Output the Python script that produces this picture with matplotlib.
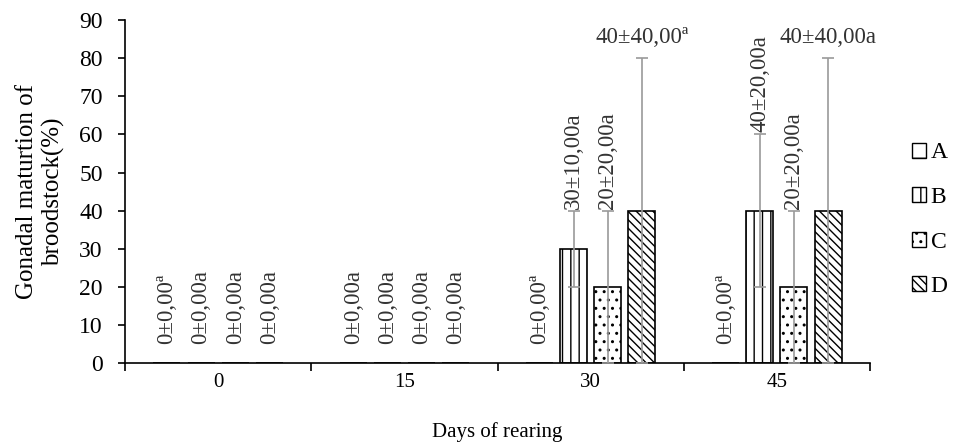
import matplotlib
matplotlib.use("Agg")
import matplotlib.pyplot as plt
import matplotlib.patches as mpatches
import numpy as np

plt.rcParams['font.family'] = ['Liberation Serif', 'DejaVu Serif']
plt.rcParams['hatch.linewidth'] = 1.0

days = ['0', '15', '30', '45']
treatments = ['A', 'B', 'C', 'D']
hatches = ['-', '||', '..', '\\\\\\\\']

mean_A = [0, 0, 0, 0]
mean_B = [0, 0, 30, 40]
mean_C = [0, 0, 20, 20]
mean_D = [0, 0, 40, 40]

err_A = [0, 0, 0, 0]
err_B = [0, 0, 10, 20]
err_C = [0, 0, 20, 20]
err_D = [0, 0, 40, 40]

lab_A = ['0±0,00ª', '0±0,00a', '0±0,00ª', '0±0,00ª']
lab_B = ['0±0,00a', '0±0,00a', '30±10,00a', '40±20,00a']
lab_C = ['0±0,00a', '0±0,00a', '20±20,00a', '20±20,00a']
lab_D = ['0±0,00a', '0±0,00a', '40±40,00ª', '40±40,00a']

means = [mean_A, mean_B, mean_C, mean_D]
errs = [err_A, err_B, err_C, err_D]
labels = [lab_A, lab_B, lab_C, lab_D]

fig = plt.figure(figsize=(9.54, 4.46), dpi=100)
ax = fig.add_axes([0.131, 0.186, 0.781, 0.769])

x = np.arange(len(days))
step = 0.183
width = 0.145
lab_size = 16.5

for i, t in enumerate(treatments):
    xs = x + (i - 1.5) * step
    m = np.array(means[i])
    e = np.array(errs[i])
    ax.bar(xs, m, width, color='white', edgecolor='black', linewidth=1.2,
           hatch=hatches[i], zorder=2)
    mask = e > 0
    if mask.any():
        ax.errorbar(xs[mask], m[mask], yerr=e[mask], fmt='none', ecolor='#9a9a9a',
                    elinewidth=1.2, capsize=4, capthick=1.2, zorder=3)
    for j in range(len(days)):
        top = m[j] + e[j]
        if top >= 80:
            ax.text(xs[j], top + 2.8, labels[i][j], ha='center', va='bottom',
                    fontsize=lab_size, color='#333333')
        elif top > 0:
            ax.text(xs[j], top + 0.5, labels[i][j], ha='center', va='bottom',
                    rotation=90, fontsize=lab_size, color='#333333')
        else:
            ax.text(xs[j], 5, labels[i][j], ha='center', va='bottom',
                    rotation=90, fontsize=lab_size, color='#333333')

ax.set_xlim(-0.5, 3.5)
ax.set_ylim(0, 90)
ax.set_yticks(np.arange(0, 91, 10))
ax.set_xticks(x)
ax.set_xticklabels(days)
ax.set_xticks(np.arange(-0.5, 3.6, 1), minor=True)
ax.tick_params(axis='x', which='major', length=0, pad=7, labelsize=15)
ax.tick_params(axis='x', which='minor', length=6, direction='out', width=1.2)
ax.tick_params(axis='y', length=5, direction='out', width=1.2, labelsize=17, pad=11)
ax.spines['top'].set_visible(False)
ax.spines['right'].set_visible(False)
ax.spines['left'].set_linewidth(1.2)
ax.spines['bottom'].set_linewidth(1.2)

ax.set_xlabel('Days of rearing', fontsize=15, labelpad=22)
ax.set_ylabel('Gonadal maturtion of\nbroodstock(%)', fontsize=18, labelpad=10,
              linespacing=1.25)

handles = [mpatches.Patch(facecolor='white', edgecolor='black', hatch=hatches[i],
                          label=t) for i, t in enumerate(treatments)]
fig.legend(handles=handles, loc='center left', bbox_to_anchor=(0.946, 0.507),
           frameon=False, fontsize=17, handlelength=0.6, handleheight=0.6,
           handletextpad=0.2, labelspacing=1.0, borderaxespad=0)

fig.savefig('out.png', dpi=100)
